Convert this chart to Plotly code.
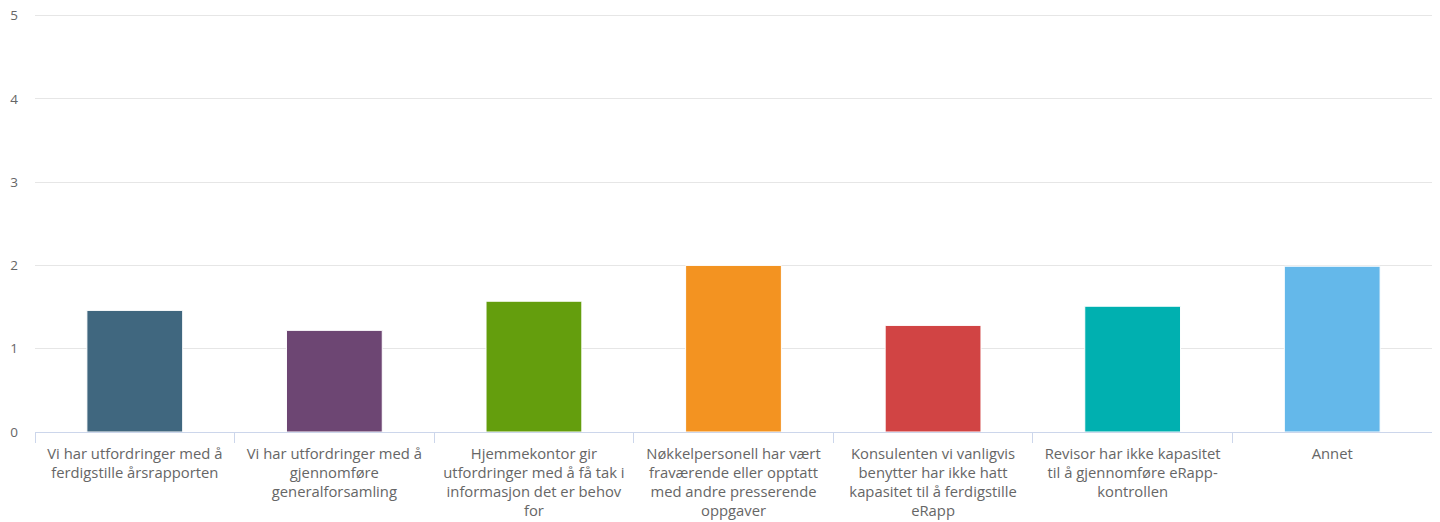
import plotly.graph_objects as go

categories = [
    "Vi har utfordringer med å<br>ferdigstille årsrapporten",
    "Vi har utfordringer med å<br>gjennomføre<br>generalforsamling",
    "Hjemmekontor gir<br>utfordringer med å få tak i<br>informasjon det er behov<br>for",
    "Nøkkelpersonell har vært<br>fraværende eller opptatt<br>med andre presserende<br>oppgaver",
    "Konsulenten vi vanligvis<br>benytter har ikke hatt<br>kapasitet til å ferdigstille<br>eRapp",
    "Revisor har ikke kapasitet<br>til å gjennomføre eRapp-<br>kontrollen",
    "Annet",
]
values = [1.46, 1.22, 1.57, 2.0, 1.28, 1.51, 1.99]
colors = ["#40677f", "#6d4673", "#649e0d", "#f39321", "#d14444", "#00b0b0", "#64b8ea"]
y_ticks = [0, 1, 2, 3, 4, 5]

fig = go.Figure(go.Bar(
    x=categories,
    y=values,
    marker=dict(color=colors, line=dict(color="#ffffff", width=1)),
    width=0.48,
    hoverinfo="skip",
))

fig.update_layout(
    width=1440, height=522,
    margin=dict(l=27, r=16, t=5, b=98),
    paper_bgcolor="white", plot_bgcolor="white",
    font=dict(family="Open Sans, sans-serif", color="#666666", size=13),
    showlegend=False,
)
fig.update_xaxes(
    showgrid=False,
    showline=True, linecolor="#ccd6eb", linewidth=1,
    ticks="outside", tickson="boundaries", ticklen=10, tickcolor="#ccd6eb",
    tickfont=dict(size=14.8, color="#666666"),
    tickangle=0,
    ticklabelstandoff=8,
    automargin=False,
)
fig.update_yaxes(
    range=[0, 5.03],
    tickvals=y_ticks,
    showgrid=True, gridcolor="#e6e6e6", gridwidth=1,
    zeroline=False,
    showline=False,
    tickfont=dict(size=13.5, color="#666666"),
    ticklabelstandoff=16,
    ticklabeloverflow="allow",
    automargin=False,
)

fig.write_html("out.html")
